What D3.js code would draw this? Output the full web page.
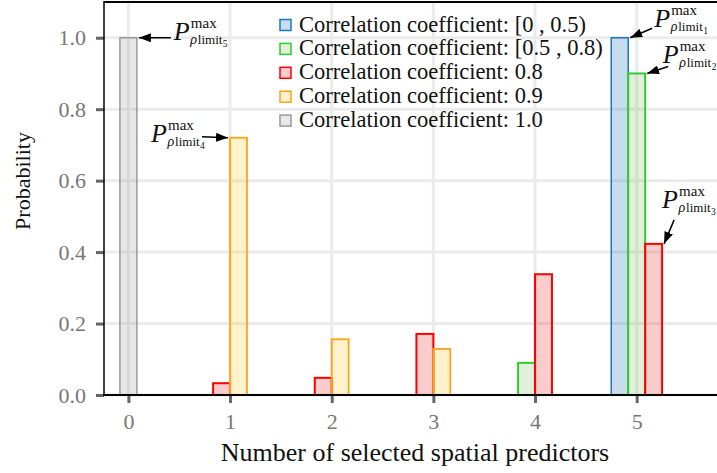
<!DOCTYPE html>
<html lang="en">
<head>
    <meta charset="UTF-8">
    <title>Selected spatial predictors</title>
    <script src="https://d3js.org/d3.v7.min.js"></script>
    <style>
        body { margin: 0; background: #fff; }
        svg { display: block; }
        svg text { font-family: "Liberation Serif", "Times New Roman", serif; }
    </style>
</head>
<body>
    <svg></svg>
    <script>
        const categories = [0, 1, 2, 3, 4, 5];
        const seriesNames = ["[0 , 0.5)", "[0.5 , 0.8)", "0.8", "0.9", "1.0"];
        const valuesRange1 = [0, 0, 0, 0, 0, 1.0];
        const valuesRange2 = [0, 0, 0, 0, 0.09, 0.90];
        const values08 = [0, 0.033, 0.048, 0.171, 0.338, 0.423];
        const values09 = [0, 0.72, 0.156, 0.129, 0, 0];
        const values10 = [1.0, 0, 0, 0, 0, 0];
        const yTicks = [0, 0.2, 0.4, 0.6, 0.8, 1.0];

        const strokes = ["#1f77b4", "#2ecc2e", "#ff0000", "#ffa31a", "#999999"];
        const fills = ["rgba(31,119,180,0.25)", "rgba(112,173,71,0.2)", "rgba(230,0,0,0.2)",
                       "rgba(255,192,0,0.2)", "rgba(128,128,128,0.18)"];
        const strokeW = [1.5, 2, 2, 1.8, 1.5];

        const allValues = [valuesRange1, valuesRange2, values08, values09, values10];

        const width = 717, height = 473;
        const svg = d3.select("svg").attr("width", width).attr("height", height);

        const x = d3.scaleLinear().domain([-0.24, 5.79]).range([104, 717]);
        const y = d3.scaleLinear().domain([0, 1.1]).range([395, 2]);
        const bw = 1 / 6;

        // grid
        const grid = svg.append("g");
        grid.selectAll(".gy").data(yTicks).join("line")
            .attr("x1", 104).attr("x2", width)
            .attr("y1", d => y(d)).attr("y2", d => y(d))
            .attr("stroke", "#ebebeb").attr("stroke-width", 3);
        grid.selectAll(".gx").data(categories).join("line")
            .attr("x1", d => x(d)).attr("x2", d => x(d))
            .attr("y1", 2).attr("y2", 395)
            .attr("stroke", "#ebebeb").attr("stroke-width", 3);

        // bars: each group centres only its non-zero bars
        const bars = [];
        categories.forEach((c, i) => {
            const active = allValues.map((v, s) => ({ s, v: v[i] })).filter(d => d.v > 0);
            active.forEach((d, j) => {
                bars.push({ c, s: d.s, v: d.v, off: (j - (active.length - 1) / 2) * bw });
            });
        });
        svg.append("g").selectAll("rect").data(bars).join("rect")
            .attr("x", d => x(d.c + d.off - bw / 2))
            .attr("width", d => x(bw) - x(0))
            .attr("y", d => y(d.v))
            .attr("height", d => y(0) - y(d.v))
            .attr("fill", d => fills[d.s])
            .attr("stroke", d => strokes[d.s])
            .attr("stroke-width", d => strokeW[d.s]);

        // axes
        const yAxis = svg.append("g").attr("transform", "translate(104,0)")
            .call(d3.axisLeft(y).tickValues(yTicks).tickFormat(d3.format(".1f")).tickSize(8).tickPadding(10));
        const xAxis = svg.append("g").attr("transform", "translate(0,395)")
            .call(d3.axisBottom(x).tickValues(categories).tickFormat(d3.format("d")).tickSize(8).tickPadding(10));
        [yAxis, xAxis].forEach(a => {
            a.attr("font-family", null);
            a.select(".domain").remove();
            a.selectAll(".tick line").attr("stroke", "#666").attr("stroke-width", 3);
            a.selectAll(".tick text").attr("fill", "#777").style("font-size", "22px");
        });

        // spines
        svg.append("line").attr("x1", 104).attr("x2", width).attr("y1", 2).attr("y2", 2)
            .attr("stroke", "#000").attr("stroke-width", 2);
        svg.append("line").attr("x1", 104).attr("x2", 104).attr("y1", 1).attr("y2", 396)
            .attr("stroke", "#000").attr("stroke-width", 1.5);
        svg.append("line").attr("x1", 103).attr("x2", width).attr("y1", 395).attr("y2", 395)
            .attr("stroke", "#000").attr("stroke-width", 2);

        // axis labels
        svg.append("text").attr("x", 415).attr("y", 461).attr("text-anchor", "middle")
            .style("font-size", "26px").attr("fill", "#111")
            .text("Number of selected spatial predictors");
        svg.append("text").attr("transform", "translate(30,181) rotate(-90)")
            .attr("text-anchor", "middle").style("font-size", "22px").attr("fill", "#111")
            .text("Probability");

        // legend
        const legend = svg.append("g").attr("transform", "translate(280,25)");
        seriesNames.forEach((n, i) => {
            const row = legend.append("g").attr("transform", `translate(0,${i * 23.9})`);
            row.append("rect").attr("x", 0).attr("y", -5.5).attr("width", 11).attr("height", 11)
                .attr("fill", fills[i]).attr("stroke", strokes[i]).attr("stroke-width", 1.5);
            row.append("text").attr("x", 19).attr("y", 6.5).style("font-size", "22.5px")
                .attr("fill", "#111").text("Correlation coefficient: " + n);
        });

        // annotations
        svg.append("defs").append("marker").attr("id", "ah")
            .attr("viewBox", "0 0 12 9").attr("refX", 12).attr("refY", 4.5)
            .attr("markerWidth", 12).attr("markerHeight", 9).attr("markerUnits", "userSpaceOnUse")
            .attr("orient", "auto")
            .append("path").attr("d", "M0,0L12,4.5L0,9Z").attr("fill", "#000");

        function barOf(c, s) { return bars.find(b => b.c === c && b.s === s); }
        function corner(b, side) {
            return [x(b.c + b.off + (side === "r" ? bw / 2 : -bw / 2)) + (side === "r" ? 2 : -2), y(b.v)];
        }
        // [category, series, side of bar, text dx, text dy, arrow start dx, dy, index]
        const notes = [
            [5, 0, "r", 24, -11, 22, -9.5, 1],
            [5, 1, "r", 15.5, -10.5, 21, -7, 2],
            [5, 2, "r", -2, -36, 10, -24, 3],
            [1, 3, "l", -77, 4, -26, -1, 4],
            [0, 4, "r", 35, 2.5, 32, 0, 5]
        ];
        notes.forEach(([c, s, side, tdx, tdy, adx, ady, k]) => {
            const [tx, ty] = corner(barOf(c, s), side);
            svg.append("line").attr("x1", tx + adx).attr("y1", ty + ady).attr("x2", tx).attr("y2", ty)
                .attr("stroke", "#000").attr("stroke-width", 1.5).attr("marker-end", "url(#ah)");
            const x0 = tx + tdx, y0 = ty + tdy;
            const t = svg.append("text").attr("fill", "#111");
            t.append("tspan").attr("x", x0).attr("y", y0).style("font-size", "26px")
                .style("font-style", "italic").text("P");
            t.append("tspan").attr("x", x0 + 17).attr("y", y0 - 12).style("font-size", "15px").text("max");
            t.append("tspan").attr("x", x0 + 16.5).attr("y", y0 + 4).style("font-size", "14px")
                .style("font-style", "italic").text("ρ");
            t.append("tspan").attr("x", x0 + 24).attr("y", y0 + 4).style("font-size", "13px").text("limit");
            t.append("tspan").attr("x", x0 + 49).attr("y", y0 + 7).style("font-size", "9.5px").text(k);
        });
    </script>
</body>
</html>
